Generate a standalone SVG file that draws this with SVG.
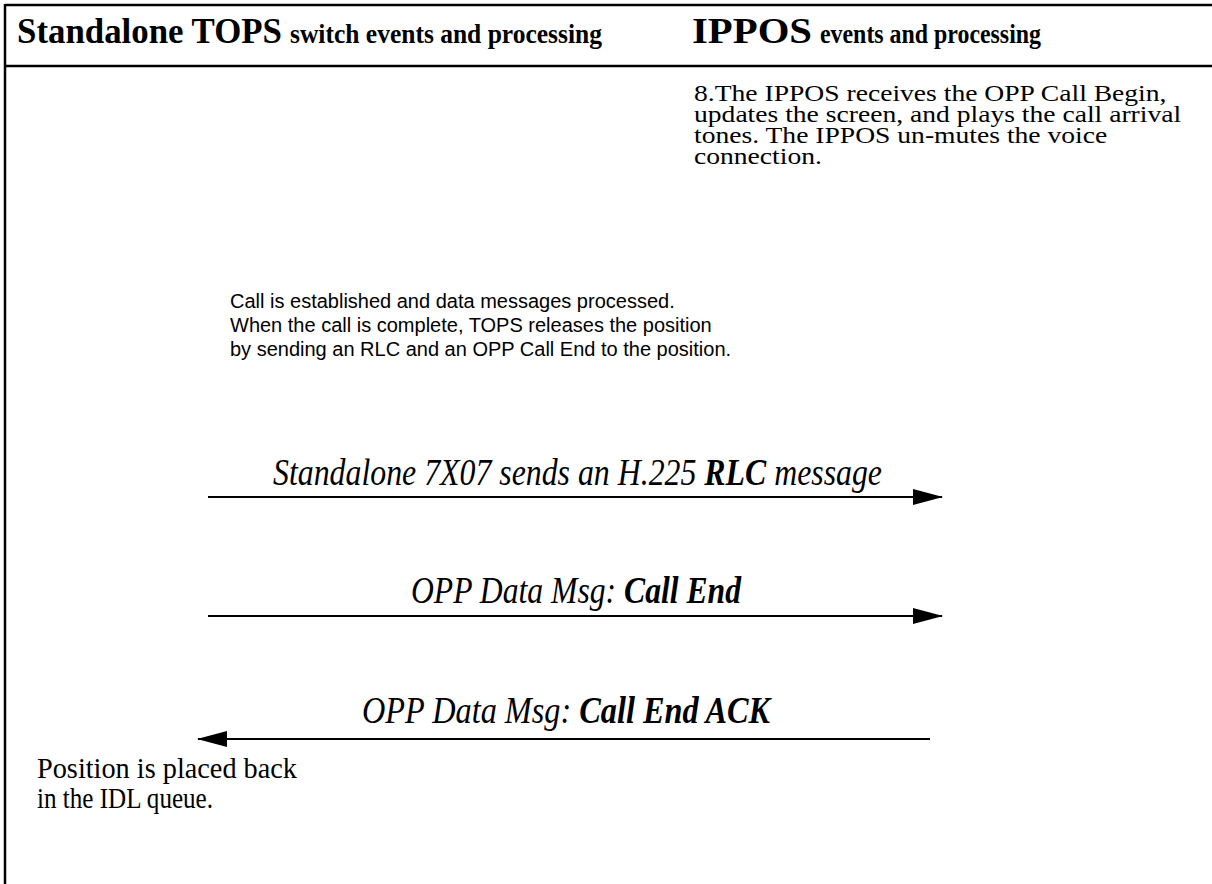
<svg xmlns="http://www.w3.org/2000/svg" width="1212" height="884" viewBox="0 0 1212 884">
<style>
.frame{stroke:#000;stroke-width:2.5;fill:none}
.conn{stroke:#000;stroke-width:2;fill:none}
.serif{font-family:"Liberation Serif","Times New Roman",serif;fill:#000}
.sans{font-family:"Liberation Sans",Arial,sans-serif;fill:#000}
.hb{font-weight:bold}
.lbl{font-style:italic;font-size:38px}
</style>
<defs>
<marker id="ah" markerWidth="30" markerHeight="16" refX="29" refY="8" orient="auto" markerUnits="userSpaceOnUse">
<path d="M0,0 L30,8 L0,16 Z" fill="#000"/>
</marker>
</defs>
<rect width="1212" height="884" fill="#fff"/>
<g id="frame">
<line class="frame" x1="5" y1="5" x2="1212" y2="5"/>
<line class="frame" x1="5" y1="66" x2="1212" y2="66"/>
<line class="frame" x1="5" y1="4" x2="5" y2="884"/>
</g>
<g id="header-left">
<text class="serif hb" x="17" y="43" font-size="35" textLength="265" lengthAdjust="spacingAndGlyphs">Standalone TOPS</text>
<text class="serif hb" x="290" y="43" font-size="28" textLength="312" lengthAdjust="spacingAndGlyphs">switch events and processing</text>
</g>
<g id="header-right">
<text class="serif hb" x="692" y="43" font-size="35" textLength="120" lengthAdjust="spacingAndGlyphs">IPPOS</text>
<text class="serif hb" x="820" y="43" font-size="28" textLength="221" lengthAdjust="spacingAndGlyphs">events and processing</text>
</g>
<g id="ippos-note">
<text class="serif" font-size="23" transform="translate(694,0) scale(1.2,1)">
<tspan x="0" y="101">8.The IPPOS receives the OPP Call Begin,</tspan>
<tspan x="0" y="122">updates the screen, and plays the call arrival</tspan>
<tspan x="0" y="143">tones. The IPPOS un-mutes the voice</tspan>
<tspan x="0" y="164">connection.</tspan>
</text>
</g>
<g id="call-note">
<text class="sans" font-size="20">
<tspan x="230" y="308">Call is established and data messages processed.</tspan>
<tspan x="230" y="332">When the call is complete, TOPS releases the position</tspan>
<tspan x="230" y="356">by sending an RLC and an OPP Call End to the position.</tspan>
</text>
</g>
<g id="idl-note">
<text class="serif" font-size="30" x="37" y="778" textLength="260" lengthAdjust="spacingAndGlyphs">Position is placed back</text>
<text class="serif" font-size="30" x="37" y="808" textLength="176" lengthAdjust="spacingAndGlyphs">in the IDL queue.</text>
</g>
<g id="connectors">
<line class="conn" x1="208" y1="497" x2="942" y2="497" marker-end="url(#ah)"/>
<line class="conn" x1="208" y1="616" x2="942" y2="616" marker-end="url(#ah)"/>
<line class="conn" x1="930" y1="739" x2="198" y2="739" marker-end="url(#ah)"/>
<text class="serif lbl" x="273" y="485" textLength="609" lengthAdjust="spacingAndGlyphs">Standalone 7X07 sends an H.225 <tspan class="hb">RLC</tspan> message</text>
<text class="serif lbl" x="411" y="603" textLength="330" lengthAdjust="spacingAndGlyphs">OPP Data Msg: <tspan class="hb">Call End</tspan></text>
<text class="serif lbl" x="362" y="723" textLength="408" lengthAdjust="spacingAndGlyphs">OPP Data Msg: <tspan class="hb">Call End ACK</tspan></text>
</g>
</svg>
